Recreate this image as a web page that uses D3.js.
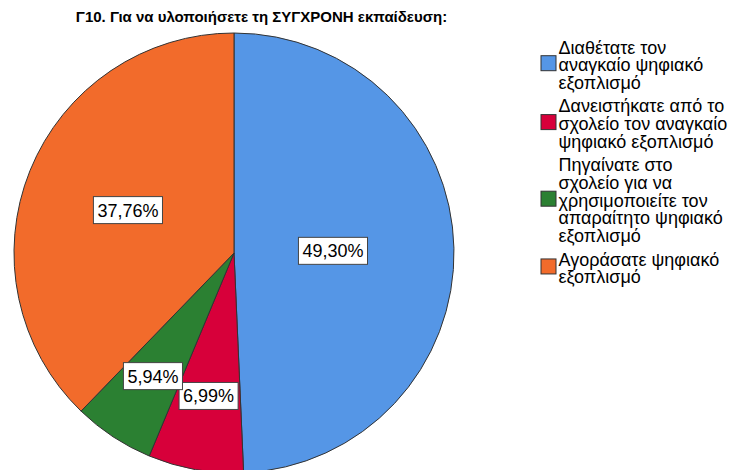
<!DOCTYPE html>
<html>
<head>
<meta charset="utf-8">
<script src="https://cdn.jsdelivr.net/npm/d3@7"></script>
<style>
  html, body { margin: 0; padding: 0; background: #fff; }
  svg { display: block; font-family: "Liberation Sans", Arial, sans-serif; }
</style>
</head>
<body>
<svg id="chart" width="736" height="470"></svg>
<script>
// ---- data ----
const title = "Γ10. Για να υλοποιήσετε τη ΣΥΓΧΡΟΝΗ εκπαίδευση:";
const categories = [
  "Διαθέτατε τον αναγκαίο ψηφιακό εξοπλισμό",
  "Δανειστήκατε από το σχολείο τον αναγκαίο ψηφιακό εξοπλισμό",
  "Πηγαίνατε στο σχολείο για να χρησιμοποιείτε τον απαραίτητο ψηφιακό εξοπλισμό",
  "Αγοράσατε ψηφιακό εξοπλισμό"
];
const legendLines = [
  ["Διαθέτατε τον", "αναγκαίο ψηφιακό", "εξοπλισμό"],
  ["Δανειστήκατε από το", "σχολείο τον αναγκαίο", "ψηφιακό εξοπλισμό"],
  ["Πηγαίνατε στο", "σχολείο για να", "χρησιμοποιείτε τον", "απαραίτητο ψηφιακό", "εξοπλισμό"],
  ["Αγοράσατε ψηφιακό", "εξοπλισμό"]
];
const values = [49.30, 6.99, 5.94, 37.76];

// ---- styling / layout ----
const colors = ["#5596E6", "#D7003A", "#2B8032", "#F26B2B"];
const labelRadiusFactor = [0.45, 0.66, 0.67, 0.52];
const cx = 234, cy = 253, R = 220;

const svg = d3.select("#chart");

// title
svg.append("text")
  .attr("x", 261.5).attr("y", 22)
  .attr("text-anchor", "middle")
  .attr("font-weight", "bold")
  .attr("font-size", 15)
  .attr("fill", "#000")
  .text(title);

// pie
const color = d3.scaleOrdinal().domain(categories).range(colors);
const pie = d3.pie().sort(null).value(d => d.value);
const data = categories.map((c, i) => ({ cat: c, value: values[i], idx: i }));
const arcs = pie(data);
const arc = d3.arc().innerRadius(0).outerRadius(R);

const g = svg.append("g").attr("transform", `translate(${cx},${cy})`);
g.selectAll("path.slice")
  .data(arcs)
  .join("path")
  .attr("class", "slice")
  .attr("d", arc)
  .attr("fill", d => color(d.data.cat))
  .attr("stroke", "#333")
  .attr("stroke-width", 1)
  .attr("stroke-linejoin", "round");

// labels
const fmt = v => d3.format(".2f")(v).replace(".", ",") + "%";
const lg = g.selectAll("g.lab")
  .data(arcs)
  .join("g")
  .attr("class", "lab")
  .attr("transform", d => {
    const f = labelRadiusFactor[d.data.idx];
    const a = d3.arc().innerRadius(R * f).outerRadius(R * f);
    const [x, y] = a.centroid(d);
    return `translate(${x},${y})`;
  });
lg.each(function(d) {
  const sel = d3.select(this);
  const rect = sel.append("rect");
  const t = sel.append("text")
    .attr("text-anchor", "middle")
    .attr("dy", "0.36em")
    .attr("font-size", 18)
    .attr("fill", "#000")
    .text(fmt(d.data.value));
  const bb = t.node().getBBox();
  const padX = 4, h = 27;
  rect.attr("x", bb.x - padX).attr("y", -h / 2)
    .attr("width", bb.width + padX * 2).attr("height", h)
    .attr("fill", "#fff").attr("stroke", "#444").attr("stroke-width", 1);
});

// legend
const lineH = 17.7, groupGap = 23.5, firstBase = 53.5;
const textX = 558.5, boxX = 541, boxS = 15;
let base = firstBase;
legendLines.forEach((lines, i) => {
  const lgG = svg.append("g").attr("class", "legend-item");
  const first = base, last = base + (lines.length - 1) * lineH;
  const mid = (first + last) / 2 - 8;
  lgG.append("rect")
    .attr("x", boxX).attr("y", mid - boxS / 2)
    .attr("width", boxS).attr("height", boxS)
    .attr("fill", color(categories[i]))
    .attr("stroke", "#333").attr("stroke-width", 1);
  const txt = lgG.append("text")
    .attr("x", textX).attr("y", first)
    .attr("font-size", 18)
    .attr("fill", "#000");
  lines.forEach((ln, j) => {
    txt.append("tspan")
      .attr("x", textX)
      .attr("y", first + j * lineH)
      .text(ln);
  });
  base = last + groupGap;
});
</script>
</body>
</html>
